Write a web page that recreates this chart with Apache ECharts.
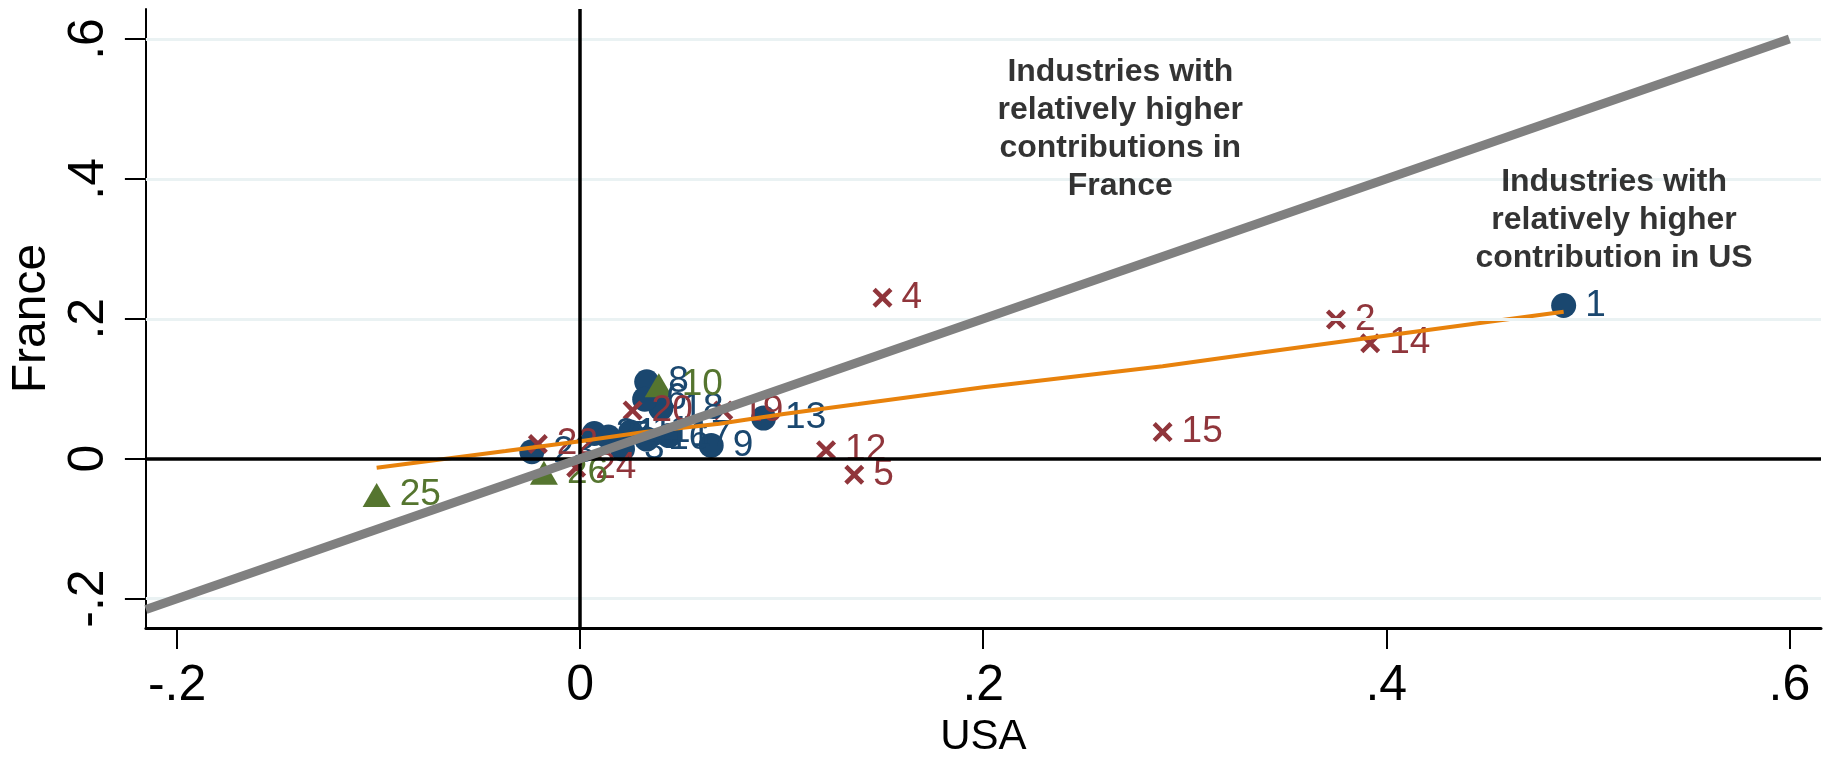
<!DOCTYPE html>
<html>
<head>
<meta charset="utf-8">
<title>USA vs France contributions</title>
<script src="https://cdn.jsdelivr.net/npm/echarts@6/dist/echarts.min.js"></script>
<style>
  html, body { margin: 0; padding: 0; background: #fff; }
  #chart { width: 1826px; height: 763px; }
</style>
</head>
<body>
<div id="chart"></div>
<script>
// industry points, one group per marker style
const blueIds = ['1', '3', '21', '7', '8', '9', '11', '13', '16', '17', '18', '6', '23'];
const blueX = [0.488, 0.021, 0.007, 0.014, 0.033, 0.065, 0.025, 0.091, 0.033, 0.044, 0.040, 0.032, -0.024];
const blueY = [0.219, 0.014, 0.036, 0.031, 0.110, 0.019, 0.038, 0.058, 0.028, 0.033, 0.072, 0.085, 0.010];

const redIds = ['2', '4', '5', '12', '14', '15', '19', '20', '22', '24'];
const redX = [0.375, 0.150, 0.136, 0.122, 0.392, 0.289, 0.071, 0.026, -0.021, -0.002];
const redY = [0.199, 0.230, -0.023, 0.012, 0.165, 0.038, 0.069, 0.069, 0.021, -0.013];

const greenIds = ['10', '25', '26'];
const greenX = [0.039, -0.101, -0.018];
const greenY = [0.105, -0.052, -0.020];

// fitted curve (orange)
const fitX = [-0.101, -0.037, 0, 0.032, 0.069, 0.101, 0.138, 0.200, 0.289, 0.339, 0.392, 0.488];
const fitY = [-0.013, 0.011, 0.025, 0.038, 0.050, 0.064, 0.078, 0.102, 0.132, 0.152, 0.173, 0.210];

// 45 degree line
const diagX = [-0.2155, 0.6];
const diagY = [-0.2155, 0.6];

// ticks
const xTicks = [-0.2, 0, 0.2, 0.4, 0.6];
const xTickLabels = ['-.2', '0', '.2', '.4', '.6'];
const yTicks = [-0.2, 0, 0.2, 0.4, 0.6];
const yTickLabels = ['-.2', '0', '.2', '.4', '.6'];

// notes
const noteTexts = [
  'Industries with\nrelatively higher\ncontributions in\nFrance',
  'Industries with\nrelatively higher\ncontribution in US'
];
const noteX = [0.268, 0.513];
const noteY = [0.471, 0.341];

const FONT = "'Liberation Sans', Arial, Helvetica, sans-serif";
const BLUE = '#1a476f';
const RED = '#90353b';
const GREEN = '#55752f';
const ORANGE = '#e8820c';
const GREY = '#808080';
const CROSS = 'path://M1.6,0 L5,3.4 L8.4,0 L10,1.6 L6.6,5 L10,8.4 L8.4,10 L5,6.6 L1.6,10 L0,8.4 L3.4,5 L0,1.6 Z';

const zip = (xs, ys) => xs.map((x, i) => [x, ys[i]]);
const tickText = (ticks, labels) => v => {
  let best = 0;
  ticks.forEach((t, i) => { if (Math.abs(t - v) < Math.abs(ticks[best] - v)) best = i; });
  return labels[best];
};

function pointSeries(name, ids, xs, ys, color, symbol, size) {
  return {
    name: name,
    type: 'scatter',
    z: 3,
    symbol: symbol,
    symbolSize: size,
    itemStyle: { color: color, opacity: 1 },
    label: {
      show: true,
      position: 'right',
      distance: 9,
      formatter: p => ids[p.dataIndex],
      color: color,
      fontSize: 37,
      fontFamily: FONT
    },
    data: zip(xs, ys)
  };
}

const chart = echarts.init(document.getElementById('chart'));

const option = {
  backgroundColor: '#fff',
  animation: false,
  grid: { left: 139, right: 5, top: 9, bottom: 127, containLabel: false },
  xAxis: {
    type: 'value',
    min: -0.2155,
    max: 0.6157,
    name: 'USA',
    nameLocation: 'middle',
    nameGap: 87,
    nameTextStyle: { fontSize: 42, color: '#000', fontFamily: FONT },
    axisLine: { show: true, onZero: false, lineStyle: { color: '#000', width: 3 } },
    axisTick: { show: true, length: 21, customValues: xTicks, lineStyle: { color: '#000', width: 2 } },
    axisLabel: {
      customValues: xTicks,
      formatter: tickText(xTicks, xTickLabels),
      fontSize: 50, color: '#000', fontFamily: FONT, margin: 33
    },
    splitLine: { show: false }
  },
  yAxis: {
    type: 'value',
    min: -0.2422,
    max: 0.6428,
    name: 'France',
    nameLocation: 'middle',
    nameGap: 84,
    nameTextStyle: { fontSize: 48, color: '#000', fontFamily: FONT },
    axisLine: { show: true, onZero: false, lineStyle: { color: '#000', width: 2 } },
    axisTick: { show: true, length: 21, customValues: yTicks, lineStyle: { color: '#000', width: 2 } },
    axisLabel: {
      customValues: yTicks,
      rotate: 90,
      formatter: tickText(yTicks, yTickLabels),
      fontSize: 50, color: '#000', fontFamily: FONT, margin: 32
    },
    splitLine: { show: false }
  },
  series: [
    {
      name: 'reference lines',
      type: 'line',
      z: 1,
      data: [],
      markLine: {
        silent: true,
        symbol: ['none', 'none'],
        label: { show: false },
        animation: false,
        data: yTicks.filter(v => v !== 0).map(v => ({
          yAxis: v, lineStyle: { color: '#eaf2f3', width: 3, type: 'solid' }
        })).concat([
          { yAxis: 0, lineStyle: { color: '#000', width: 3.5, type: 'solid' } },
          { xAxis: 0, lineStyle: { color: '#000', width: 3.5, type: 'solid' } }
        ])
      }
    },
    pointSeries('Group 1', blueIds, blueX, blueY, BLUE, 'circle', 25),
    pointSeries('Group 2', redIds, redX, redY, RED, CROSS, 20),
    pointSeries('Group 3', greenIds, greenX, greenY, GREEN, 'triangle', [28, 24]),
    {
      name: 'Fit',
      type: 'line',
      z: 4,
      symbol: 'none',
      lineStyle: { color: ORANGE, width: 4 },
      data: zip(fitX, fitY)
    },
    {
      name: '45 degree line',
      type: 'line',
      z: 5,
      symbol: 'none',
      lineStyle: { color: GREY, width: 9, cap: 'butt' },
      data: zip(diagX, diagY)
    },
    {
      name: 'notes',
      type: 'scatter',
      z: 6,
      symbolSize: 0,
      silent: true,
      label: {
        show: true,
        position: 'inside',
        formatter: p => noteTexts[p.dataIndex],
        color: '#000',
        fontSize: 32,
        fontWeight: 'bold',
        lineHeight: 38,
        align: 'center',
        verticalAlign: 'middle',
        fontFamily: FONT
      },
      data: zip(noteX, noteY)
    }
  ]
};

chart.setOption(option);
window.addEventListener('resize', () => chart.resize());
</script>
</body>
</html>
